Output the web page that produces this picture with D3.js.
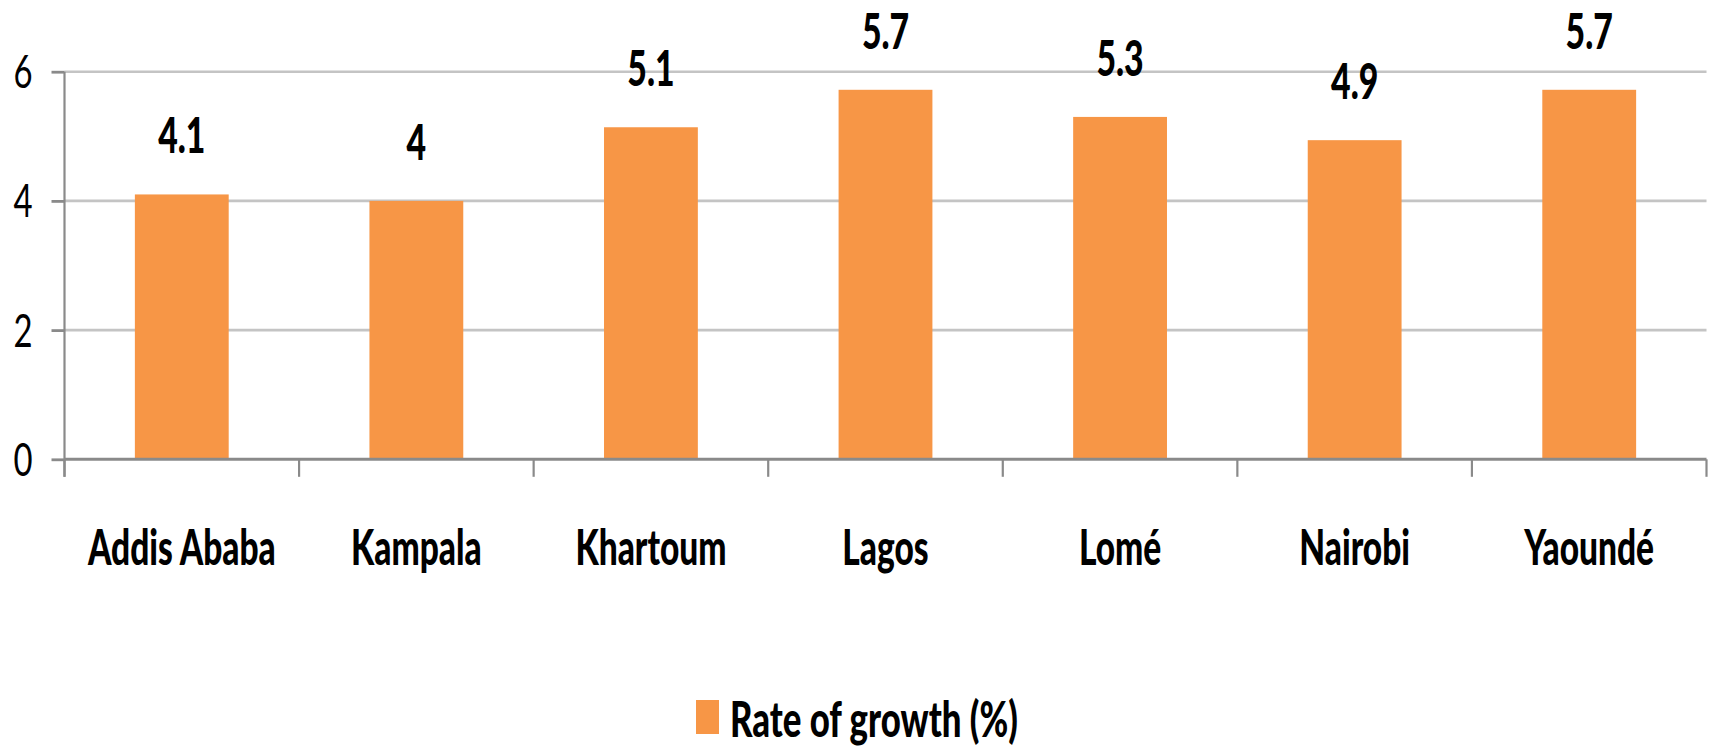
<!DOCTYPE html>
<html>
<head>
<meta charset="utf-8">
<script src="https://cdn.jsdelivr.net/npm/d3@7"></script>
<style>
  html, body { margin: 0; padding: 0; background: #fff; }
  svg { display: block; }
  text { font-family: Lato, "Open Sans", sans-serif; fill: #000; }
</style>
</head>
<body>
<svg id="chart" width="1713" height="747"></svg>
<script>
const categories = ["Addis Ababa", "Kampala", "Khartoum", "Lagos", "Lomé", "Nairobi", "Yaoundé"];
const values = [4.1, 4.0, 5.14, 5.72, 5.3, 4.94, 5.72];
const yTicks = [0, 2, 4, 6];
const seriesName = "Rate of growth (%)";

const plot = { left: 64.5, right: 1706.5, top: 71.7, bottom: 459.3 };
const SX = 0.67;   // horizontal squeeze of labels (narrow face)
const SXV = 0.69;  // value-label squeeze
const SXL = 0.71;  // legend squeeze
const barColor = "#f79646";

const svg = d3.select("#chart");

const x = d3.scaleBand().domain(categories).range([plot.left, plot.right])
  .paddingInner(0.6).paddingOuter(0.3);
const y = d3.scaleLinear().domain([0, 6]).range([plot.bottom, plot.top]);

// gridlines
svg.append("g").selectAll("line").data(yTicks.filter(d => d > 0)).join("line")
  .attr("x1", plot.left).attr("x2", plot.right)
  .attr("y1", d => y(d)).attr("y2", d => y(d))
  .attr("stroke", "#c4c4c4").attr("stroke-width", 2.6);

// bars
svg.append("g").selectAll("rect").data(values).join("rect")
  .attr("x", (d, i) => x(categories[i]))
  .attr("width", x.bandwidth())
  .attr("y", d => y(d))
  .attr("height", d => y(0) - y(d))
  .attr("fill", barColor);

// y axis
const yAxis = svg.append("g").attr("transform", `translate(${plot.left},0)`)
  .call(d3.axisLeft(y).tickValues(yTicks).tickSize(13).tickFormat(d3.format("d")));
yAxis.select(".domain").remove();
yAxis.selectAll(".tick line").attr("stroke", "#8a8a8a").attr("stroke-width", 2.8);
yAxis.selectAll(".tick text")
  .attr("x", null).attr("dy", null)
  .attr("transform", `translate(-32,16) scale(0.7,1)`)
  .attr("text-anchor", "end")
  .style("font-size", "47px").style("font-weight", 400)
  .style("font-family", "Lato, 'Open Sans', sans-serif").attr("fill", "#000");
yAxis.append("line").attr("x1", 0).attr("x2", 0)
  .attr("y1", y(6)).attr("y2", y(0) + 17.5)
  .attr("stroke", "#8a8a8a").attr("stroke-width", 2.2);

// x axis
const boundaries = d3.range(categories.length + 1).map(i => plot.left + i * x.step());
svg.append("line").attr("x1", plot.left).attr("x2", plot.right)
  .attr("y1", y(0)).attr("y2", y(0))
  .attr("stroke", "#8a8a8a").attr("stroke-width", 3);
svg.append("g").selectAll("line").data(boundaries).join("line")
  .attr("x1", d => d).attr("x2", d => d)
  .attr("y1", y(0)).attr("y2", y(0) + 17.5)
  .attr("stroke", "#8a8a8a").attr("stroke-width", 2.2);

// category labels
svg.append("g").selectAll("text").data(categories).join("text")
  .attr("transform", d => `translate(${x(d) + x.bandwidth() / 2},565) scale(${SX},1)`)
  .attr("text-anchor", "middle")
  .style("font-size", "50px").style("font-weight", 900)
  .text(d => d);

// value labels
const fmt = d3.format(".2~r");
svg.append("g").selectAll("text").data(values).join("text")
  .attr("transform", (d, i) => `translate(${x(categories[i]) + x.bandwidth() / 2},${y(d) - 41}) scale(${SXV},1)`)
  .attr("text-anchor", "middle")
  .style("font-size", "49px").style("font-weight", 900)
  .text(d => fmt(d));

// legend
const lg = svg.append("g");
lg.append("rect").attr("x", 696).attr("y", 700).attr("width", 23).attr("height", 34).attr("fill", barColor);
lg.append("text").attr("transform", `translate(730,737) scale(${SXL},1)`)
  .style("font-size", "49px").style("font-weight", 900)
  .text(seriesName);
</script>
</body>
</html>
